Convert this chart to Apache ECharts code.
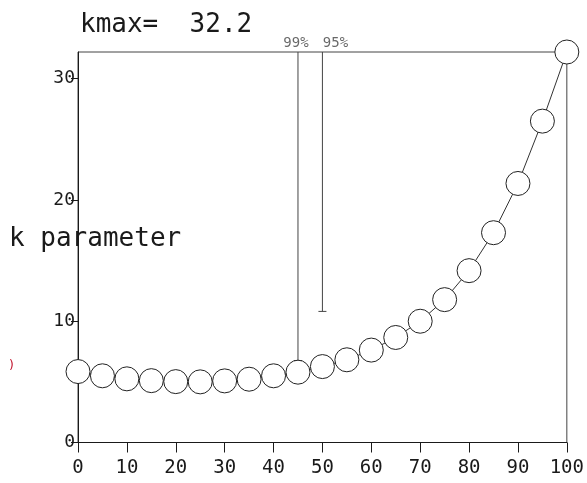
<!DOCTYPE html>
<html>
<head>
<meta charset="utf-8">
<script src="https://cdn.jsdelivr.net/npm/echarts@6/dist/echarts.min.js"></script>
<style>
  html, body { margin: 0; padding: 0; background: #fff; }
  #chart { width: 587px; height: 483px; }
</style>
</head>
<body>
<div id="chart"></div>
<script>
// Sample percentage (x) and fitted k parameter (y)
const xValues = [0, 5, 10, 15, 20, 25, 30, 35, 40, 45, 50, 55, 60, 65, 70, 75, 80, 85, 90, 95, 100];
const kValues = [5.85, 5.5, 5.25, 5.1, 5.02, 5.0, 5.08, 5.22, 5.5, 5.8, 6.26, 6.82, 7.62, 8.66, 10.0, 11.78, 14.17, 17.3, 21.36, 26.5, 32.2];
const kmax = 32.2;

// Confidence markers: x position, lower end of the bar, label
const confX = [45, 50];
const confLow = [6.76, 10.81];
const confLabels = ['99%', '95%'];

const xTicks = [0, 10, 20, 30, 40, 50, 60, 70, 80, 90, 100];
const yTicks = [0, 10, 20, 30];

const FONT = '"DejaVu Sans Mono", monospace';
const INK = '#1a1a1a';

const chart = echarts.init(document.getElementById('chart'), null, { renderer: 'canvas' });

const capPath = 'path://M0,0H10V1H0Z';

const confSeries = confX.map((x, i) => ({
  type: 'line',
  z: 1,
  silent: true,
  clip: false,
  lineStyle: { color: '#444', width: 1 },
  data: [
    { value: [x, kmax], symbol: 'none' },
    { value: [x, confLow[i]], symbol: capPath, symbolSize: [8, 1], itemStyle: { color: '#444' } }
  ],
  animation: false
}));

const labelSeries = {
  type: 'scatter',
  z: 3,
  symbolSize: 0,
  silent: true,
  clip: false,
  data: confX.map((x, i) => ({
    value: [x, kmax],
    label: {
      show: true,
      position: 'top',
      distance: 2,
      offset: i === 1 ? [13, 0] : [-2, 0],
      formatter: confLabels[i],
      fontFamily: FONT,
      fontSize: 14,
      color: '#444'
    }
  })),
  animation: false
};

chart.setOption({
  animation: false,
  backgroundColor: '#fff',
  title: {
    text: 'kmax=  ' + kmax.toFixed(1),
    left: 75,
    top: 7,
    textStyle: { fontFamily: FONT, fontSize: 26, fontWeight: 'normal', color: INK }
  },
  graphic: [
    {
      type: 'text',
      left: 9,
      top: 226,
      style: { text: 'k parameter', font: '26px ' + FONT, fill: INK }
    },
    {
      type: 'text',
      left: 8,
      top: 360,
      style: { text: ')', font: '12px ' + FONT, fill: '#c0102a' }
    }
  ],
  grid: {
    left: 78,
    right: 19,
    top: 52,
    bottom: 40.5,
    show: true,
    borderColor: '#444',
    borderWidth: 1,
    backgroundColor: 'transparent'
  },
  xAxis: {
    type: 'value',
    min: 0,
    max: 100,
    interval: 10,
    splitLine: { show: false },
    axisLine: { show: true, lineStyle: { color: INK, width: 1 } },
    axisTick: { show: true, length: 10, lineStyle: { color: INK }, customValues: xTicks },
    axisLabel: {
      margin: 16,
      fontFamily: FONT,
      fontSize: 19,
      color: INK,
      customValues: xTicks
    }
  },
  yAxis: {
    type: 'value',
    min: 0,
    max: kmax,
    splitLine: { show: false },
    axisLine: { show: true, lineStyle: { color: INK, width: 1 } },
    axisTick: { show: true, length: 7, lineStyle: { color: INK }, customValues: yTicks },
    axisLabel: {
      margin: 3,
      fontFamily: FONT,
      fontSize: 18,
      color: INK,
      customValues: yTicks
    }
  },
  series: [
    ...confSeries,
    {
      type: 'line',
      z: 2,
      clip: false,
      data: xValues.map((x, i) => [x, kValues[i]]),
      symbol: 'circle',
      symbolSize: 24,
      showSymbol: true,
      itemStyle: { color: '#fff', borderColor: '#222', borderWidth: 1 },
      lineStyle: { color: '#333', width: 1 }
    },
    labelSeries
  ]
});
</script>
</body>
</html>
